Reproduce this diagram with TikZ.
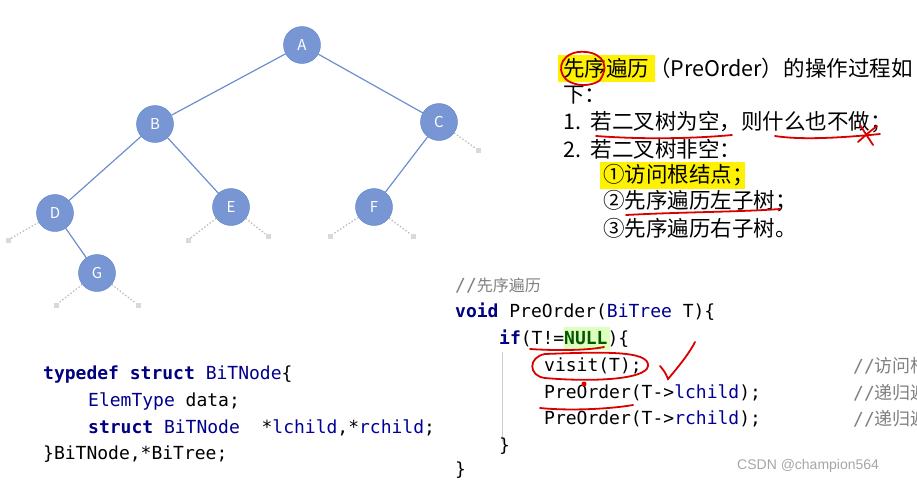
\documentclass[tikz,border=0pt]{standalone}
\usepackage{fontspec}
\newfontfamily\cjk{Noto Sans CJK SC}
\newfontfamily\mono{DejaVu Sans Mono}
\begin{document}
\begin{tikzpicture}[x=1pt,y=-1pt,
  tn/.style={circle,fill=cyan!40!blue!55,draw=cyan!40!blue!70,minimum size=37pt,inner sep=0pt,font=\cjk\fontsize{15}{15}\selectfont,text=white},
  ed/.style={draw=cyan!40!blue!60,line width=1.2pt},
  stub/.style={draw=gray!50,dotted,line width=1.4pt},
  sq/.style={fill=gray!30,minimum size=5pt,inner sep=0pt},
  tx/.style={anchor=west,font=\cjk\fontsize{21.5}{21.5}\selectfont,inner sep=0pt},
  cd/.style={anchor=west,font=\mono\fontsize{18}{18}\selectfont,inner sep=0pt},
  rd/.style={draw=red!85!black,line width=1.8pt,line cap=round}]
\newcommand\kwd[1]{\textbf{\color{blue!50!black}#1}}
\newcommand\typ[1]{{\color{blue!55!black}#1}}
\newcommand\fld[1]{{\color{blue!60!black}#1}}
\useasboundingbox (0,0) rectangle (917,483);
\clip (0,0) rectangle (917,483);
% tree
\node[tn] (A) at (302,45) {A};
\node[tn] (B) at (155,124) {B};
\node[tn] (C) at (439,122) {C};
\node[tn] (D) at (55,213) {D};
\node[tn] (E) at (231,207) {E};
\node[tn] (F) at (374,207) {F};
\node[tn] (G) at (97,273) {G};
\draw[ed] (A)--(B); \draw[ed] (A)--(C); \draw[ed] (B)--(D); \draw[ed] (B)--(E);
\draw[ed] (C)--(F); \draw[ed] (D)--(G);
\foreach \n/\x/\y [count=\i] in {C/478/150, D/8/240, E/188/240, E/268/236, F/330/236, F/413/236, G/56/305, G/138/305}{
  \node[sq] (s\i) at (\x,\y) {};
  \draw[stub] (\n)--(s\i);
}
% right text
\fill[yellow] (558,55) rectangle (655,82);
\fill[yellow] (600,162) rectangle (745,189);
\node[tx] (t1) at (563,68) {先序遍历（PreOrder）的操作过程如};
\node[tx] (t2) at (563,95) {下：};
\node[tx] (t3) at (563,122) {1.\ \ 若二叉树为空，则什么也不做；};
\node[tx] (t4) at (563,149) {2.\ \ 若二叉树非空：};
\node[tx] (t5) at (603,175) {①访问根结点；};
\node[tx] (t6) at (603,201) {②先序遍历左子树；};
\node[tx] (t7) at (603,228) {③先序遍历右子树。};
% red marks right
\draw[rd] (600,80) .. controls (612,62) and (598,50) .. (578,52) .. controls (558,55) and (556,75) .. (570,82) .. controls (582,88) and (596,84) .. (600,80);
\draw[rd] (596,136) .. controls (650,140) and (700,138) .. (732,135);
\draw[rd] (775,136) .. controls (800,140) and (840,138) .. (880,134);
\draw[rd] (860,125) -- (873,145); \draw[rd] (877,126) .. controls (868,133) .. (858,142);
\draw[rd] (626,215) .. controls (680,212) and (740,212) .. (780,209);
% code right
\node[cd] (c1) at (455,286) {\color{gray}//\cjk\fontsize{16}{16}\selectfont 先序遍历};
\node[cd] (c2) at (455,312) {\kwd{void} PreOrder(\typ{BiTree} T)\{};
\fill[green!50!yellow!25] (564,327) rectangle (610,350);
\node[cd] (c3) at (499,339) {\kwd{if}(T!=\textbf{\color{green!35!black}NULL})\{};
\draw[gray!40,line width=0.6pt] (502,352) -- (502,442);
\node[cd] (c4) at (544,366) {visit(T);};
\node[cd] (c5) at (544,393) {PreOrder(T->\fld{lchild});};
\node[cd] (c6) at (544,419) {PreOrder(T->\fld{rchild});};
\node[cd] (c7) at (499,446) {\}};
\node[cd] (c8) at (455,470) {\}};
\node[cd] (m1) at (853,366) {\color{gray}//\cjk 访问根结点};
\node[cd] (m2) at (853,393) {\color{gray}//\cjk 递归遍历左子树};
\node[cd] (m3) at (853,419) {\color{gray}//\cjk 递归遍历右子树};
\node[anchor=west,inner sep=0pt,font=\fontspec{Liberation Sans}\fontsize{14}{14}\selectfont,text=gray!70] (wm) at (737,466) {CSDN @champion564};
% red code marks
\draw[rd] (530,349) .. controls (560,351) and (590,350) .. (604,347);
\draw[rd] (648,366) .. controls (650,350) and (600,352) .. (545,354) .. controls (528,357) and (528,376) .. (545,378) .. controls (590,382) and (646,380) .. (648,366);
\draw[rd] (660,366) .. controls (665,372) .. (668,379) .. controls (680,365) and (690,352) .. (695,342);
\draw[rd] (540,408) .. controls (570,411) and (610,409) .. (633,405);
\fill[red!85!black] (584,384) circle (2.5pt);
% left code
\node[cd] (l1) at (43,375) {\kwd{typedef struct} \typ{BiTNode}\{};
\node[cd] (l2) at (88,401) {\typ{ElemType} data;};
\node[cd] (l3) at (88,428) {\kwd{struct} \typ{BiTNode}\ \ *\fld{lchild},*\fld{rchild};};
\node[cd] (l4) at (43,454) {\}BiTNode,*BiTree;};
\end{tikzpicture}
\end{document}
